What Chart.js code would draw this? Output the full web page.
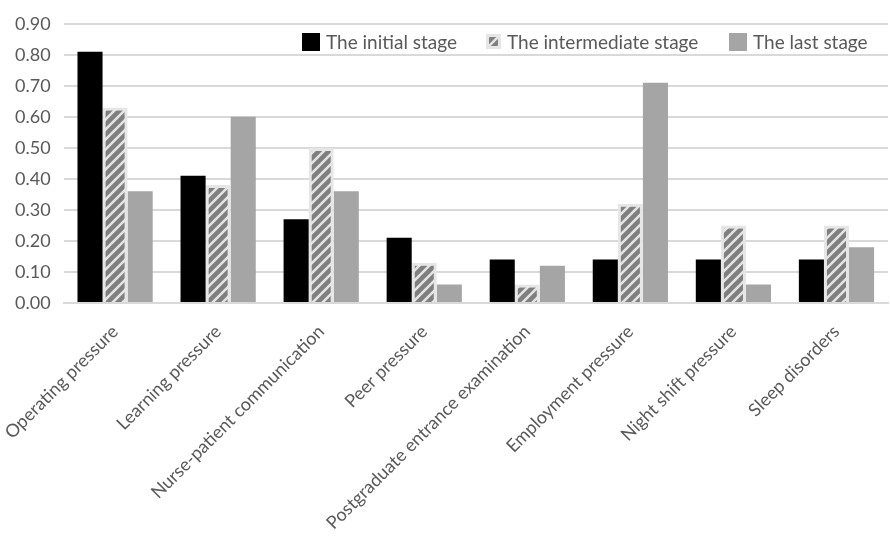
<!DOCTYPE html>
<html>
<head>
<meta charset="utf-8">
<script src="https://cdn.jsdelivr.net/npm/chart.js@4.4.1/dist/chart.umd.min.js"></script>
<style>
  html, body { margin: 0; padding: 0; background: #fff; }
  #wrap { width: 890px; height: 539px; position: relative; }
</style>
</head>
<body>
<div id="wrap"><canvas id="stressChart"></canvas></div>
<script>
// dados
const categories = [
    'Operating pressure',
    'Learning pressure',
    'Nurse-patient communication',
    'Peer pressure',
    'Postgraduate entrance examination',
    'Employment pressure',
    'Night shift pressure',
    'Sleep disorders'
];
const initialStage = [0.81, 0.41, 0.27, 0.21, 0.14, 0.14, 0.14, 0.14];
const intermediateStage = [0.63, 0.38, 0.50, 0.13, 0.06, 0.32, 0.25, 0.25];
const lastStage = [0.36, 0.60, 0.36, 0.06, 0.12, 0.71, 0.06, 0.18];
const seriesNames = ['The initial stage', 'The intermediate stage', 'The last stage'];
const yTicks = [0, 0.1, 0.2, 0.3, 0.4, 0.5, 0.6, 0.7, 0.8, 0.9];

const FONT = 'Lato, "Open Sans", sans-serif';
const TEXT = '#595959';

function makeHatch() {
    const c = document.createElement('canvas');
    c.width = 10; c.height = 10;
    const g = c.getContext('2d');
    g.fillStyle = '#e4e4e4';
    g.fillRect(0, 0, 10, 10);
    g.strokeStyle = '#7f7f7f';
    g.lineWidth = 4.5;
    g.beginPath();
    g.moveTo(-5, 5); g.lineTo(5, -5);
    g.moveTo(0, 10); g.lineTo(10, 0);
    g.moveTo(5, 15); g.lineTo(15, 5);
    g.stroke();
    return g.createPattern(c, 'repeat');
}
const hatch = makeHatch();

// legenda desenhada dentro da área do gráfico, como no original
const legendX = [302, 486, 729];
const insideLegend = {
    id: 'insideLegend',
    afterDraw(chart) {
        const ctx = chart.ctx;
        ctx.save();
        ctx.font = '19px ' + FONT;
        ctx.textBaseline = 'middle';
        const y = 42;
        seriesNames.forEach((name, i) => {
            const x = legendX[i];
            if (i === 1) {
                ctx.fillStyle = '#e6e6e6';
                ctx.fillRect(x, y - 8, 15, 15);
                ctx.fillStyle = hatch;
                ctx.fillRect(x + 3, y - 5, 9, 9);
            } else {
                ctx.fillStyle = i === 0 ? '#000000' : '#a5a5a5';
                ctx.fillRect(x, y - 9, 18, 18);
            }
            ctx.fillStyle = TEXT;
            ctx.fillText(name, x + (i === 1 ? 21 : 24), y + 1);
        });
        ctx.restore();
    }
};

new Chart(document.getElementById('stressChart').getContext('2d'), {
    type: 'bar',
    data: {
        labels: categories,
        datasets: [
            { label: seriesNames[0], data: initialStage, backgroundColor: '#000000' },
            { label: seriesNames[1], data: intermediateStage, backgroundColor: hatch,
              borderColor: '#e6e6e6', borderWidth: 3 },
            { label: seriesNames[2], data: lastStage, backgroundColor: '#a5a5a5' }
        ]
    },
    options: {
        responsive: true,
        maintainAspectRatio: false,
        animation: false,
        layout: { padding: { top: 9, right: 2, left: 2 } },
        datasets: {
            bar: { categoryPercentage: 0.73, barPercentage: 1.0 }
        },
        plugins: {
            legend: { display: false },
            tooltip: { enabled: false }
        },
        scales: {
            x: {
                grid: { display: false },
                border: { display: true, color: '#d9d9d9', width: 2 },
                ticks: {
                    color: TEXT,
                    font: { family: FONT, size: 18 },
                    maxRotation: 45,
                    minRotation: 45,
                    autoSkip: false,
                    padding: 10
                },
                // rótulos longos podem ser cortados embaixo, como no original
                afterFit(axis) {
                    axis.height = 236;
                    axis.paddingLeft = 0;
                }
            },
            y: {
                min: 0,
                max: 0.9,
                afterBuildTicks(axis) {
                    axis.ticks = yTicks.map(v => ({ value: v }));
                },
                grid: { color: '#d9d9d9', lineWidth: 2, drawTicks: false },
                border: { display: false },
                ticks: {
                    color: TEXT,
                    font: { family: FONT, size: 18 },
                    padding: 13,
                    callback: v => Number(v).toFixed(2)
                }
            }
        }
    },
    plugins: [insideLegend]
});
</script>
</body>
</html>
